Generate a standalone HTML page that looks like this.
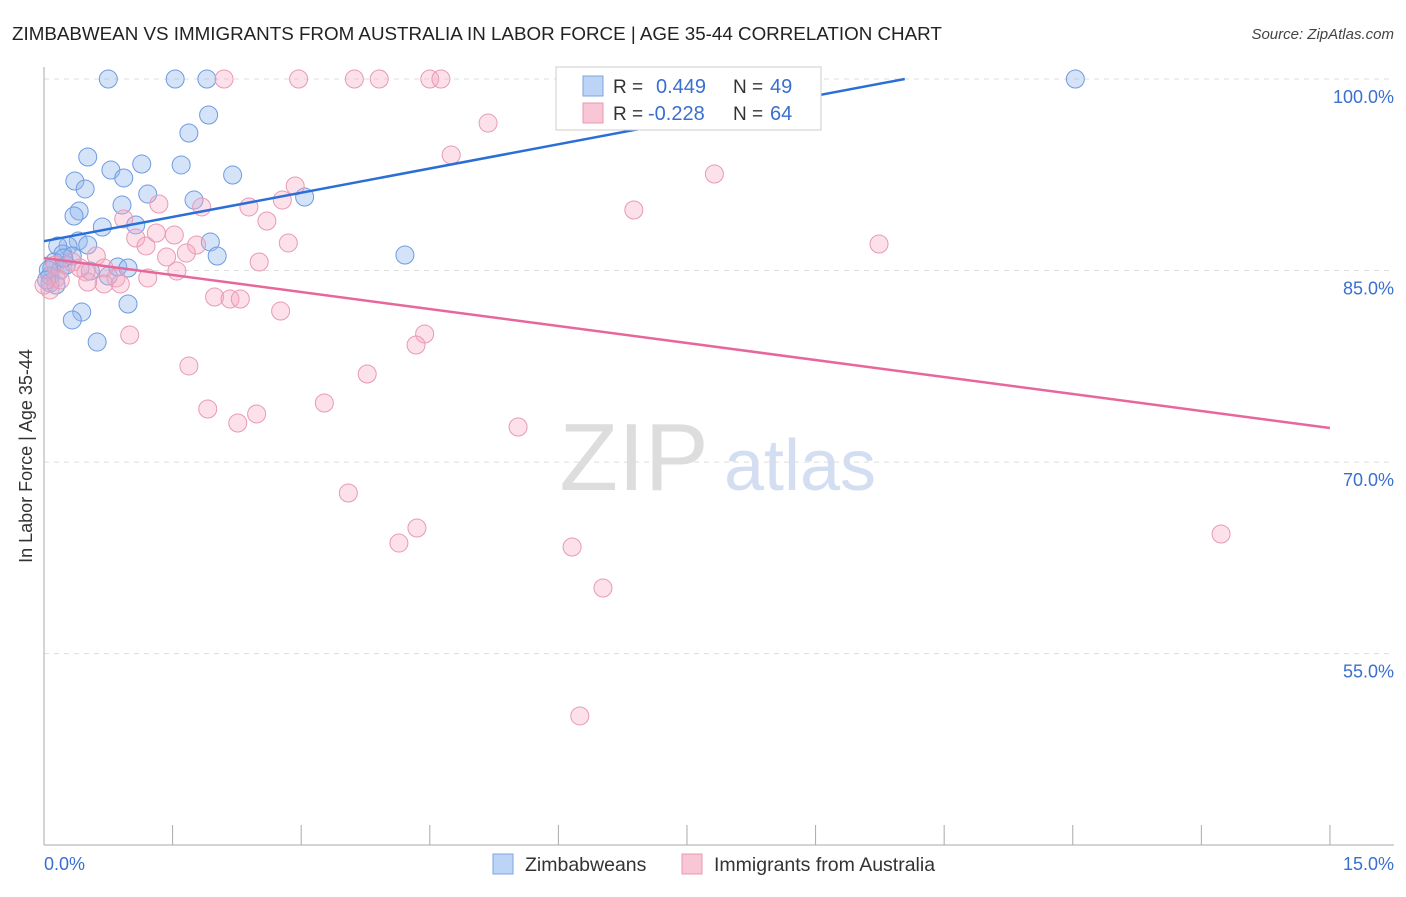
<!DOCTYPE html>
<html><head><meta charset="utf-8">
<style>
body{margin:0;background:#fff;font-family:"Liberation Sans",sans-serif;}
svg text{font-family:"Liberation Sans",sans-serif;}
</style></head>
<body>
<svg id="c" width="1406" height="892" xmlns="http://www.w3.org/2000/svg">
<text x="12" y="40" font-size="18.8" fill="#222">ZIMBABWEAN VS IMMIGRANTS FROM AUSTRALIA IN LABOR FORCE | AGE 35-44 CORRELATION CHART</text>
<text x="1394" y="39" font-size="15" fill="#444" text-anchor="end" font-style="italic">Source: ZipAtlas.com</text>
<text x="32" y="456" font-size="18" fill="#333" text-anchor="middle" transform="rotate(-90 32 456)">In Labor Force | Age 35-44</text>
<g>
<text x="634" y="490" font-size="96" fill="#ddd" text-anchor="middle" font-family="Liberation Serif">ZIP</text>
<text x="800" y="490" font-size="72" fill="#d3def2" text-anchor="middle">atlas</text>
</g>
<g id="grid"></g><g id="pts"></g><g id="lines"></g>
<g>
<rect x="556" y="67" width="265" height="63" fill="#fff" stroke="#ccc"/>
<rect x="583" y="76" width="20" height="20" fill="#bcd4f5" stroke="#7ea4e0"/>
<text x="613" y="93" font-size="19" fill="#333">R =</text>
<text x="656" y="93" font-size="20" fill="#3a6fd0">0.449</text>
<text x="733" y="93" font-size="19" fill="#333">N =</text>
<text x="770" y="93" font-size="20" fill="#3a6fd0">49</text>
<rect x="583" y="103" width="20" height="20" fill="#f9c6d6" stroke="#e89ab3"/>
<text x="613" y="120" font-size="19" fill="#333">R =</text>
<text x="648" y="120" font-size="20" fill="#3a6fd0">-0.228</text>
<text x="733" y="120" font-size="19" fill="#333">N =</text>
<text x="770" y="120" font-size="20" fill="#3a6fd0">64</text>
</g>
<g>
<rect x="493" y="854" width="20" height="20" fill="#bcd4f5" stroke="#7ea4e0"/>
<text x="525" y="871" font-size="19.5" fill="#333">Zimbabweans</text>
<rect x="682" y="854" width="20" height="20" fill="#f9c6d6" stroke="#e89ab3"/>
<text x="714" y="871" font-size="19.5" fill="#333">Immigrants from Australia</text>
</g>
<text x="44" y="870" font-size="18" fill="#3a6fd0">0.0%</text>
<text x="1394" y="870" font-size="18" fill="#3a6fd0" text-anchor="end">15.0%</text>
</svg>
<script>
const yTicks=[100,85,70,55];
const yTickLabels=["100.0%","85.0%","70.0%","55.0%"];
const xTicks=[0,1.5,3,4.5,6,7.5,9,10.5,12,13.5,15];
const bluePx=[[108,79],[175,79],[207,79],[1075,79],[209,115],[189,133],[88,157],[111,170],[142,164],[181,165],[75,181],[124,178],[85,189],[148,194],[194,200],[233,175],[305,197],[122,205],[79,211],[74,216],[102,227],[136,225],[210,242],[217,256],[78,241],[88,245],[68,246],[58,246],[63,254],[72,256],[54,262],[52,268],[60,270],[66,265],[90,271],[108,276],[118,267],[128,268],[50,276],[50,283],[82,312],[72,320],[128,304],[97,342],[405,255],[48,270],[56,285],[64,258],[47,280]];
const pinkPx=[[224,79],[299,79],[354,79],[379,79],[430,79],[441,79],[488,123],[451,155],[714,174],[634,210],[879,244],[295,186],[282,200],[249,207],[202,207],[159,204],[124,219],[267,221],[288,243],[136,238],[146,246],[197,245],[156,233],[174,235],[186,253],[167,257],[259,262],[96,256],[72,262],[55,265],[86,272],[104,268],[177,271],[148,278],[116,278],[104,284],[88,282],[120,284],[56,278],[50,290],[44,285],[215,297],[230,299],[240,299],[281,311],[130,335],[425,334],[416,345],[189,366],[367,374],[324,403],[208,409],[257,414],[238,423],[518,427],[348,493],[417,528],[399,543],[572,547],[1221,534],[603,588],[580,716],[60,280],[80,268]];
const blueX=bluePx.map(p=>+((p[0]-44)/85.73).toFixed(2));
const blueY=bluePx.map(p=>+(100-(p[1]-79)/12.77).toFixed(2));
const pinkX=pinkPx.map(p=>+((p[0]-44)/85.73).toFixed(2));
const pinkY=pinkPx.map(p=>+(100-(p[1]-79)/12.77).toFixed(2));
const blueTrend=[[0,87.3],[10.04,100]];
const pinkTrend=[[0,85.98],[15,72.67]];
const sx=v=>44+v*85.73, sy=v=>79+(100-v)*12.77;
const NS="http://www.w3.org/2000/svg";
function mk(tag,attrs,parent){const e=document.createElementNS(NS,tag);for(const k in attrs)e.setAttribute(k,attrs[k]);parent.appendChild(e);return e;}
const grid=document.getElementById('grid');
yTicks.forEach((t,i)=>{
 const l=mk('line',{x1:44,x2:1394,y1:sy(t),y2:sy(t),stroke:'#ddd','stroke-dasharray':'5,5'},grid);
 
 
 const tx=mk('text',{x:1394,y:sy(t)+24,'font-size':18,fill:'#3a6fd0','text-anchor':'end'},grid);
 tx.textContent=yTickLabels[i];
 
 
});
const ya=mk('line',{x1:44,x2:44,y1:67,y2:845,stroke:'#aaa'},grid);


const xa=mk('line',{x1:44,x2:1394,y1:845,y2:845,stroke:'#aaa'},grid);


xTicks.forEach(t=>{
 const l=mk('line',{x1:sx(t),x2:sx(t),y1:825,y2:845,stroke:'#aaa'},grid);
 
 
});
const pts=document.getElementById('pts');
blueX.forEach((x,i)=>{
 const c=mk('circle',{cx:sx(x),cy:sy(blueY[i]),r:9,fill:'rgba(150,185,240,0.4)',stroke:'#6f9be0','stroke-width':1},pts);
 
 
});
pinkX.forEach((x,i)=>{
 const c=mk('circle',{cx:sx(x),cy:sy(pinkY[i]),r:9,fill:'rgba(245,170,195,0.35)',stroke:'#e89ab3','stroke-width':1},pts);
 
 
});
const lines=document.getElementById('lines');
const bl=mk('line',{x1:sx(blueTrend[0][0]),y1:sy(blueTrend[0][1]),x2:sx(blueTrend[1][0]),y2:sy(blueTrend[1][1]),stroke:'#2a6fd6','stroke-width':2.5},lines);


const pl=mk('line',{x1:sx(pinkTrend[0][0]),y1:sy(pinkTrend[0][1]),x2:sx(pinkTrend[1][0]),y2:sy(pinkTrend[1][1]),stroke:'#e8679a','stroke-width':2.5},lines);


</script>
</body></html>
